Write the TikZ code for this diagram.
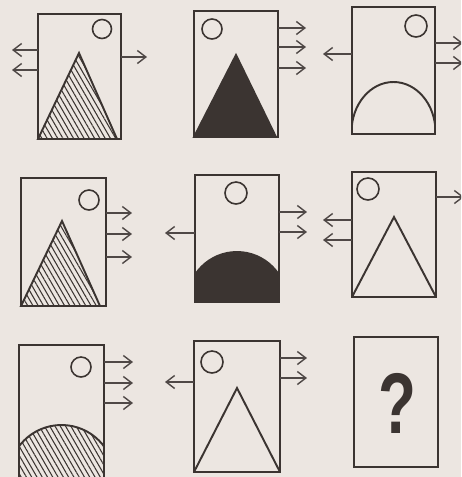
\documentclass[tikz,border=0pt]{standalone}
\usepackage{fontspec}
\newfontfamily\qfont{Liberation Sans}
\usetikzlibrary{arrows.meta,patterns.meta}
\definecolor{paper}{HTML}{ECE6E1}
\definecolor{ink}{HTML}{3B3431}
\tikzset{
  panel/.style={draw=ink, line width=1.4pt},
  ring/.style={draw=ink, line width=0.9pt},
  figline/.style={draw=ink, line width=1.1pt, line join=miter},
  hatched/.style={figline, pattern={Lines[angle=-60,distance=2.6pt,line width=0.6pt]}, pattern color=ink},
  solid fill/.style={figline, fill=ink},
  stub/.style={draw=ink!90, line width=0.8pt, -{Straight Barb[length=1.7mm,width=2.6mm]}}
}
\begin{document}
\begin{tikzpicture}[x=0.02cm,y=-0.02cm]
  \fill[paper] (0,0) rectangle (461,477);
  \clip (0,0) rectangle (461,477);

  % Row 1
  \draw[hatched] (38,139) -- (79,53) -- (117,139) -- cycle;
  \draw[panel] (38,14) rectangle (121,139);
  \draw[ring] (102,29) circle[radius=9.5];
  \draw[stub] (38,50) -- (12,50);
  \draw[stub] (38,70) -- (12,70);
  \draw[stub] (121,57) -- (147,57);

  \draw[solid fill] (194,137) -- (236,55) -- (276,137) -- cycle;
  \draw[panel] (194,11) rectangle (278,137);
  \draw[ring] (212,29) circle[radius=10];
  \draw[stub] (278,28) -- (306,28);
  \draw[stub] (278,47) -- (306,47);
  \draw[stub] (278,68) -- (306,68);

  \begin{scope}
    \clip (352,7) rectangle (435,134);
    \draw[figline] (393.5,132) ellipse[x radius=42, y radius=50];
  \end{scope}
  \draw[panel] (352,7) rectangle (435,134);
  \draw[ring] (416,26) circle[radius=11];
  \draw[stub] (352,54) -- (323,54);
  \draw[stub] (435,43) -- (463,43);
  \draw[stub] (435,63) -- (463,63);

  % Row 2
  \draw[hatched] (21,306) -- (62,221) -- (100,306) -- cycle;
  \draw[panel] (21,178) rectangle (106,306);
  \draw[ring] (89,200) circle[radius=10];
  \draw[stub] (106,213) -- (132,213);
  \draw[stub] (106,234) -- (132,234);
  \draw[stub] (106,257) -- (132,257);

  \begin{scope}
    \clip (195,175) rectangle (279,302);
    \draw[solid fill] (237,302) circle[radius=50];
  \end{scope}
  \draw[panel] (195,175) rectangle (279,302);
  \draw[ring] (236,193) circle[radius=11];
  \draw[stub] (195,233) -- (165,233);
  \draw[stub] (279,212) -- (307,212);
  \draw[stub] (279,232) -- (307,232);

  \draw[figline] (352,297) -- (394,217) -- (436,297);
  \draw[panel] (352,172) rectangle (436,297);
  \draw[ring] (368,189) circle[radius=11];
  \draw[stub] (352,220) -- (323,220);
  \draw[stub] (352,240) -- (323,240);
  \draw[stub] (436,197) -- (464,197);

  % Row 3
  \begin{scope}
    \clip (19,345) rectangle (104,490);
    \draw[hatched] (61.5,478) circle[radius=53];
  \end{scope}
  \draw[panel] (19,345) rectangle (104,490);
  \draw[ring] (81,367) circle[radius=10];
  \draw[stub] (104,362) -- (133,362);
  \draw[stub] (104,383) -- (133,383);
  \draw[stub] (104,403) -- (133,403);

  \draw[figline] (194,472) -- (237,388) -- (280,472);
  \draw[panel] (194,341) rectangle (280,472);
  \draw[ring] (212,362) circle[radius=11];
  \draw[stub] (194,382) -- (165,382);
  \draw[stub] (280,358) -- (307,358);
  \draw[stub] (280,378) -- (307,378);

  \draw[panel] (354,337) rectangle (438,467);
  \node[font=\qfont\bfseries\fontsize{49}{50}\selectfont, text=ink, xscale=0.72, inner sep=0pt]
    (query) at (397,403) {?};
\end{tikzpicture}
\end{document}
